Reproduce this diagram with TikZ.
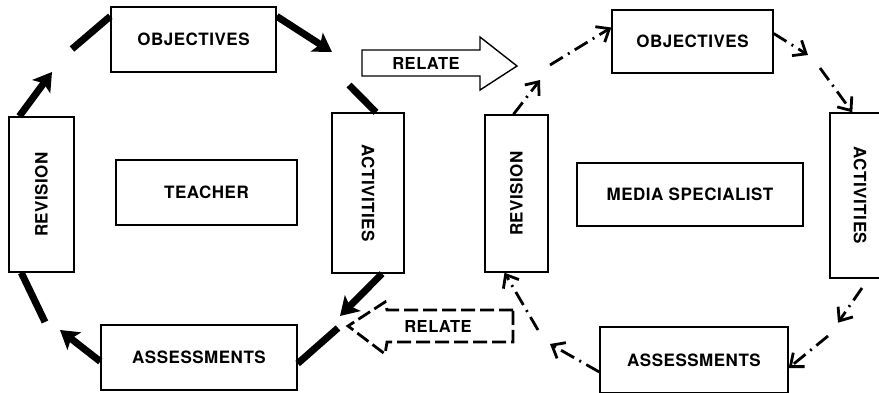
\documentclass[tikz,border=0pt]{standalone}
\usepackage{fontspec}
\setmainfont{TeX Gyre Heros}[LetterSpace=3]
\usetikzlibrary{arrows.meta,calc}
\begin{document}
\begin{tikzpicture}[x=1pt,y=-1pt,
  box/.style={draw, line width=1.4pt, inner sep=0pt, font=\fontsize{17}{19}\selectfont\bfseries},
  lbl/.style={inner sep=0pt, font=\fontsize{16.5}{19}\selectfont\bfseries},
  bigarrow/.style={line width=7pt, -{Stealth[length=18pt,width=22pt,inset=4pt]}},
  bigline/.style={line width=7pt},
  dasharrow/.style={line width=2.8pt, dash pattern=on 15pt off 6pt on 2pt off 6pt, -{Straight Barb[length=11pt,width=18pt]}},
  relatebox/.style={line width=1.4pt, line join=miter},
]
\useasboundingbox (0,0) rectangle (879,392);
\clip (0,0) rectangle (879,392);
\fill[white] (0,0) rectangle (879,392);

% Left cycle (teacher)
\node[box, minimum width=165pt, minimum height=65pt] (obj1) at (193.5,39.5) {OBJECTIVES};
\node[box, minimum width=65pt, minimum height=155pt] (rev1) at (41.5,194.5) {\rotatebox{90}{REVISION}};
\node[box, minimum width=181pt, minimum height=65pt] (tea) at (206.5,192.5) {TEACHER};
\node[box, minimum width=72pt, minimum height=160pt] (act1) at (368,193) {\rotatebox{-90}{ACTIVITIES}};
\node[box, minimum width=196pt, minimum height=65pt] (ass1) at (199,357.5) {ASSESSMENTS};

% Right cycle (media specialist)
\node[box, minimum width=161pt, minimum height=63pt] (obj2) at (692.5,41.5) {OBJECTIVES};
\node[box, minimum width=63pt, minimum height=157pt] (rev2) at (516.5,193.5) {\rotatebox{90}{REVISION}};
\node[box, minimum width=226pt, minimum height=63pt] (med) at (690,194.5) {MEDIA SPECIALIST};
\node[box, minimum width=60pt, minimum height=165pt] (act2) at (860,195.5) {\rotatebox{-90}{ACTIVITIES}};
\node[box, minimum width=188pt, minimum height=66pt] (ass2) at (694,360) {ASSESSMENTS};

% Left cycle connectors
\coordinate (g1) at (52,72);
\coordinate (g2) at (72,49);
\coordinate (g3) at (332,52);
\coordinate (g4) at (349,85);
\coordinate (g5) at (340,316);
\coordinate (g6) at (338,328);
\coordinate (g7) at (60,330);
\coordinate (g8) at (45,322);
\draw[bigarrow] ($(rev1.north west)+(11,0)$) -- (g1);
\draw[bigline] (g2) -- ($(obj1.north west)+(0,10)$);
\draw[bigarrow] ($(obj1.north east)+(0,10)$) -- (g3);
\draw[bigline] (g4) -- ($(act1.north)+(8,0)$);
\draw[bigarrow] ($(act1.south)+(14,0)$) -- (g5);
\draw[bigline] (g6) -- ($(ass1.east)+(0,6)$);
\draw[bigarrow] ($(ass1.west)+(0,4)$) -- (g7);
\draw[bigline] (g8) -- ($(rev1.south west)+(13,0)$);

% Right cycle connectors
\coordinate (h1) at (540,80);
\coordinate (h2) at (550,65);
\coordinate (h3) at (808,55);
\coordinate (h4) at (820,68);
\coordinate (h5) at (862,288);
\coordinate (h6) at (828,336);
\coordinate (h7) at (550,344);
\coordinate (h8) at (538,330);
\draw[dasharrow] ($(rev2.north)+(-3,0)$) -- (h1);
\draw[dasharrow] (h2) -- ($(obj2.west)+(0,-14)$);
\draw[dasharrow] ($(obj2.east)+(0,-8)$) -- (h3);
\draw[dasharrow] (h4) -- ($(act2.north west)+(23,0)$);
\draw[dasharrow] (h5) -- ($(act2.south)+(-22,44)$);
\draw[dasharrow] (h6) -- ($(ass2.east)+(0,8)$);
\draw[dasharrow] ($(ass2.west)+(0,12)$) -- (h7);
\draw[dasharrow] (h8) -- ($(rev2.south)+(-12,0)$);

% RELATE arrows
\draw[relatebox] (362,50) -- (480,50) -- (480,37) -- (517,66) -- (480,90) -- (480,76) -- (362,76) -- cycle;
\node[lbl] (rel1) at (426,63) {RELATE};
\draw[line width=2.8pt, dash pattern=on 14pt off 5pt, line join=miter]
  (513,310) -- (387,310) -- (385,302) -- (348,326) -- (385,354) -- (387,342) -- (513,342) -- cycle;
\node[lbl] (rel2) at (438,326) {RELATE};
\end{tikzpicture}
\end{document}
